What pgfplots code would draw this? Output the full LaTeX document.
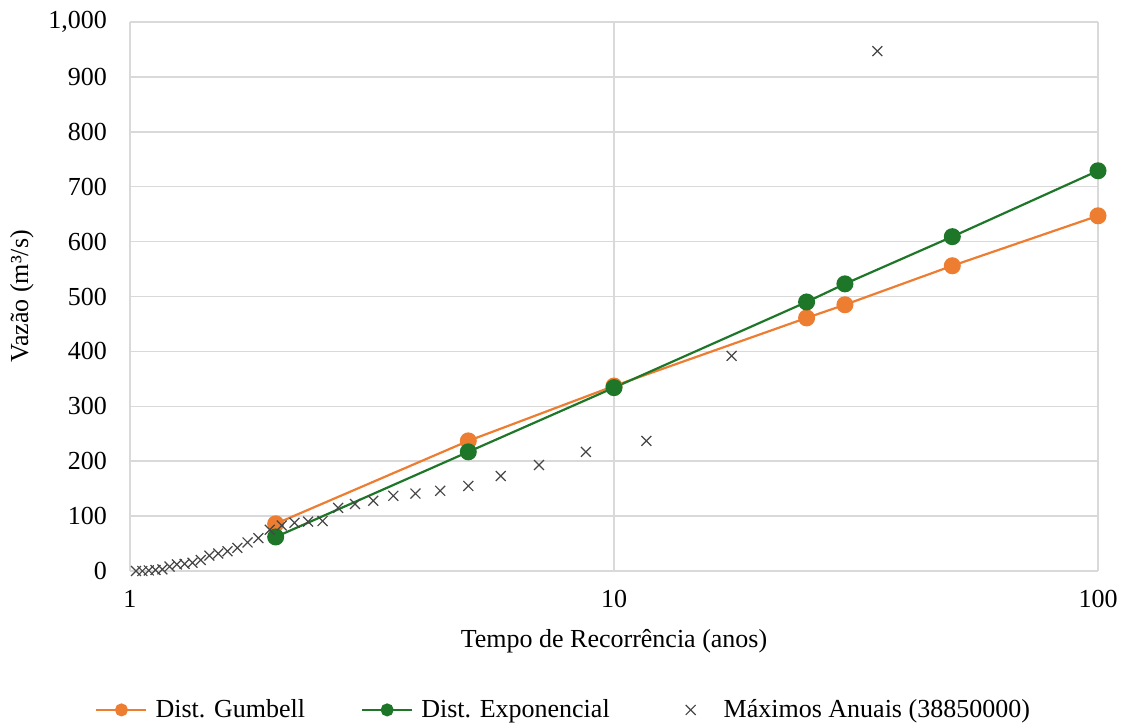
\documentclass[border=0pt]{standalone}
\usepackage{fontspec}
\setmainfont{Liberation Serif}
\usepackage{pgfplots}
\pgfplotsset{compat=1.18}
\definecolor{gumb}{RGB}{237,125,49}
\definecolor{expo}{RGB}{30,118,40}
\definecolor{gridc}{RGB}{217,217,217}
\definecolor{crossc}{RGB}{70,70,70}
\begin{document}
\begin{tikzpicture}[x=1pt,y=1pt]
\useasboundingbox (0,0) rectangle (561.5,362);
\begin{axis}[
  at={(65pt,76.5pt)}, anchor=south west,
  scale only axis, width=484pt, height=274.5pt,
  xmode=log, log basis x=10,
  xmin=1, xmax=100, ymin=0, ymax=1000,
  xtick={1,10,100}, xticklabels={1,10,100},
  ytick={0,100,...,1000},
  /pgf/number format/1000 sep={,},
  /pgf/number format/assume math mode=true,
  font=\fontsize{13}{15}\selectfont,
  tick label style={font=\fontsize{13}{15}\selectfont, text=black},
  major tick length=0pt,
  minor tick num=0,
  xminorticks=false,
  grid=major,
  major grid style={gridc, line width=0.8pt},
  axis x line*=bottom, axis y line*=left,
  axis line style={gridc, line width=1pt, -},
  xlabel={Tempo de Recorrência (anos)},
  ylabel={Vazão (m³/s)},
  xlabel style={at={(axis description cs:0.5,-0.127)}, anchor=center},
  ylabel style={at={(axis description cs:-0.1116,0.5)}, anchor=center},
  xticklabel style={yshift=-6pt},
  yticklabel style={xshift=-8pt},
  legend columns=3,
  legend style={draw=none, at={(0.449,-0.253)}, anchor=center,
    font=\fontsize{13}{15}\selectfont,
    /tikz/every odd column/.append style={column sep=2pt},
    /tikz/every even column/.append style={column sep=26pt}},
  legend cell align=left,
  legend image code/.code={\draw[mark repeat=2,mark phase=2,mark size=2.7pt] plot coordinates {(0pt,0pt) (12.5pt,0pt) (25pt,0pt)};},
]
\addplot[gumb, line width=1.1pt, mark=*, mark size=3.7pt, mark options={fill=gumb, draw=gumb}]
coordinates {(2,86) (5,237) (10,337) (25,461) (30,485) (50,556) (100,647)};
\addlegendentry{Dist. Gumbell}
\addplot[expo, line width=1.1pt, mark=*, mark size=3.7pt, mark options={fill=expo, draw=expo}]
coordinates {(2,62) (5,217) (10,334) (25,490) (30,523) (50,609) (100,729)};
\addlegendentry{Dist. Exponencial}
\addplot[only marks, crossc, mark=x, mark size=3.5pt, mark options={line width=0.6pt},
  legend image code/.code={\path[draw=none,fill=none] (0pt,-1pt) rectangle (25pt,1pt); \draw plot[mark size=3.5pt] coordinates {(12.5pt,0pt)};}]
coordinates {
(35,947) (17.5,392) (11.6667,237) (8.75,217) (7,193) (5.8333,173) (5,155)
(4.375,146) (3.8889,141) (3.5,137) (3.1818,128) (2.9167,122) (2.6923,115)
(2.5,91) (2.3333,90) (2.1875,88) (2.0588,83) (1.9444,75) (1.8421,60)
(1.75,52) (1.6667,42) (1.5909,36) (1.5217,32) (1.4583,28) (1.4,20)
(1.3462,15) (1.2963,13) (1.25,12) (1.2069,8) (1.1667,3) (1.1290,2)
(1.0938,1) (1.0606,0) (1.0294,0)};
\addlegendentry{Máximos Anuais (38850000)}
\end{axis}
\end{tikzpicture}
\end{document}
